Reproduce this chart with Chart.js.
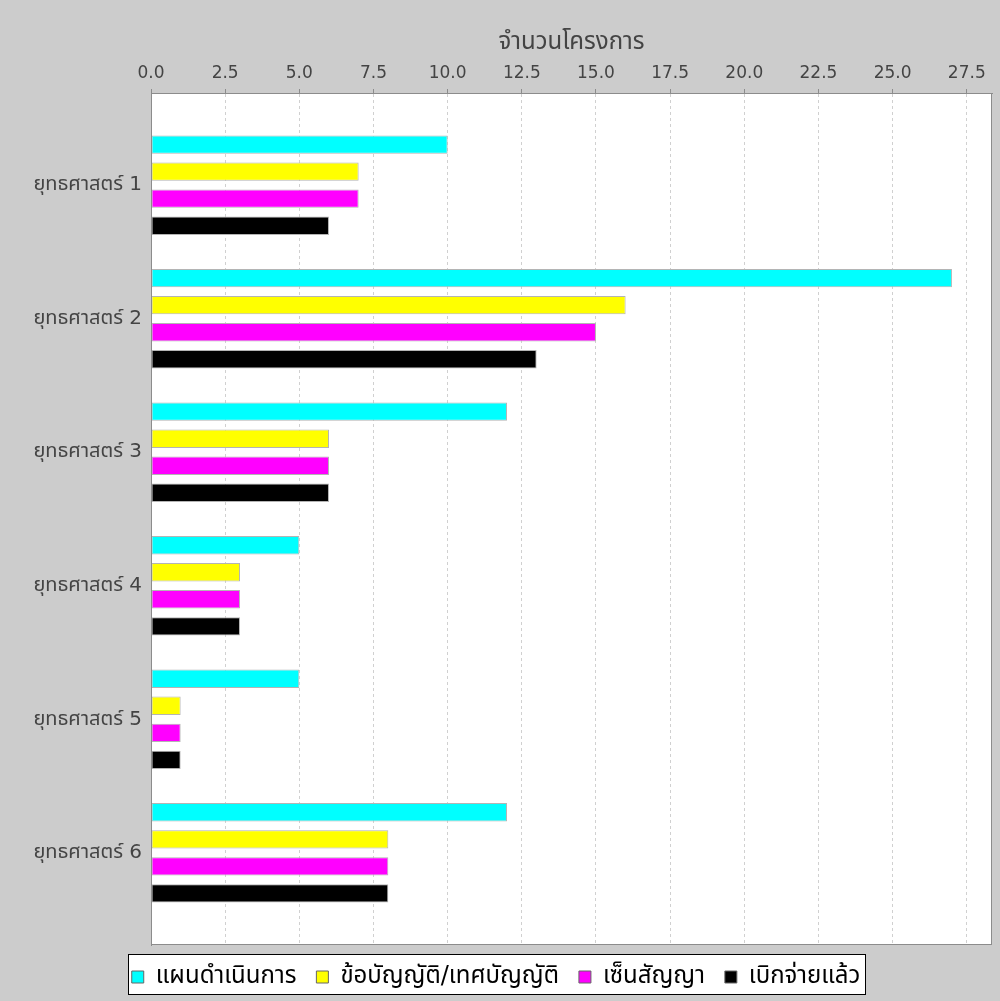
<!DOCTYPE html>
<html><head><meta charset="utf-8">
<script src="https://cdn.jsdelivr.net/npm/chart.js@4/dist/chart.umd.min.js"></script>
<style>html,body{margin:0;padding:0;background:#cccccc;}canvas{display:block;}</style>
</head><body>
<canvas id="c" width="1000" height="1001"></canvas>
<script>
const categories = ['ยุทธศาสตร์ 1','ยุทธศาสตร์ 2','ยุทธศาสตร์ 3','ยุทธศาสตร์ 4','ยุทธศาสตร์ 5','ยุทธศาสตร์ 6'];
const seriesNames = ['แผนดำเนินการ','ข้อบัญญัติ/เทศบัญญัติ','เซ็นสัญญา','เบิกจ่ายแล้ว'];
const planValues = [10, 27, 12, 5, 5, 12];
const budgetValues = [7, 16, 6, 3, 1, 8];
const contractValues = [7, 15, 6, 3, 1, 8];
const paidValues = [6, 13, 6, 3, 1, 8];
const xTickValues = [0, 2.5, 5, 7.5, 10, 12.5, 15, 17.5, 20, 22.5, 25, 27.5];
const xAxisTitle = 'จำนวนโครงการ';
const xMax = 28.35;

const colors = ['#00ffff', '#ffff00', '#ff00ff', '#000000'];
const FONT = "'DejaVu Sans', 'Noto Sans Thai', sans-serif";

const bgPlugin = {
  id: 'bg',
  beforeDraw(chart) {
    const {ctx, chartArea: a} = chart;
    ctx.save();
    ctx.fillStyle = '#cccccc';
    ctx.fillRect(0, 0, chart.width, chart.height);
    ctx.fillStyle = '#ffffff';
    ctx.fillRect(a.left, a.top, a.right - a.left, a.bottom - a.top);
    const lg = chart.legend;
    if (lg && lg.legendHitBoxes && lg.legendHitBoxes.length) {
      const hb = lg.legendHitBoxes;
      let l = Infinity, r = -Infinity, t = Infinity, b = -Infinity;
      hb.forEach(h => { l = Math.min(l, h.left); r = Math.max(r, h.left + h.width); t = Math.min(t, h.top); b = Math.max(b, h.top + h.height); });
      const x0 = Math.round(l - 4) + 0.5, x1 = Math.round(r + 5) + 0.5;
      const y0 = Math.round(t - 11) + 0.5, y1 = Math.round(b + 5) + 0.5;
      ctx.fillStyle = '#ffffff';
      ctx.fillRect(x0, y0, x1 - x0, y1 - y0);
      ctx.strokeStyle = '#000000';
      ctx.lineWidth = 1;
      ctx.strokeRect(x0, y0, x1 - x0, y1 - y0);
    }
    ctx.restore();
  },
  afterDatasetsDraw(chart) {
    const {ctx, chartArea: a} = chart;
    ctx.save();
    ctx.strokeStyle = '#8c8c8c';
    ctx.lineWidth = 1;
    ctx.strokeRect(Math.round(a.left) + 0.5, Math.round(a.top) + 0.5, Math.round(a.right - a.left) - 1, Math.round(a.bottom - a.top) - 1);
    ctx.restore();
  }
};

const dataArrays = [planValues, budgetValues, contractValues, paidValues];

new Chart(document.getElementById('c'), {
  type: 'bar',
  data: {
    labels: categories,
    datasets: seriesNames.map((n, i) => ({
      label: n,
      data: dataArrays[i],
      backgroundColor: colors[i],
      borderColor: '#b4b4b4',
      borderWidth: 1,
      borderSkipped: false,
      categoryPercentage: 0.81,
      barPercentage: 0.68
    }))
  },
  options: {
    indexAxis: 'y',
    responsive: false,
    animation: false,
    devicePixelRatio: 1,
    layout: { padding: { left: 0, right: 8, top: 8, bottom: 2 } },
    scales: {
      x: {
        type: 'linear',
        position: 'top',
        min: 0,
        max: xMax,
        afterBuildTicks: (s) => { s.ticks = xTickValues.map(v => ({ value: v })); },
        afterFit: (s) => { s.height = 85; },
        ticks: {
          callback: (v) => Number(v).toFixed(1),
          font: { family: FONT, size: 17 },
          color: '#444444',
          padding: 5
        },
        grid: {
          color: '#d0d0d0',
          lineWidth: 1,
          drawTicks: true,
          tickLength: 4,
          tickColor: '#8c8c8c',
          tickBorderDash: []
        },
        border: { display: true, color: '#8c8c8c', dash: [3, 3] },
        title: {
          display: true,
          text: xAxisTitle,
          font: { family: FONT, size: 24 },
          color: '#444444',
          padding: { top: 20, bottom: 2 }
        }
      },
      y: {
        type: 'category',
        offset: true,
        afterFit: (s) => { s.width = 151; },
        afterBuildTicks: (s) => { s._startValue -= 0.19; s._valueRange += 0.38; },
        ticks: {
          font: { family: FONT, size: 20 },
          color: '#444444',
          padding: 9
        },
        grid: { display: false, drawTicks: false },
        border: { display: true, color: '#8c8c8c' }
      }
    },
    plugins: {
      legend: {
        position: 'bottom',
        labels: {
          font: { family: FONT, size: 24 },
          color: '#000000',
          boxWidth: 12,
          boxHeight: 12,
          padding: 20,
          generateLabels: (chart) => chart.data.datasets.map((d, i) => ({
            text: d.label,
            fillStyle: colors[i],
            strokeStyle: '#666666',
            lineWidth: 1,
            fontColor: '#000000',
            datasetIndex: i,
            hidden: false
          }))
        }
      },
      tooltip: { enabled: false }
    }
  },
  plugins: [bgPlugin]
});
</script>
</body></html>
